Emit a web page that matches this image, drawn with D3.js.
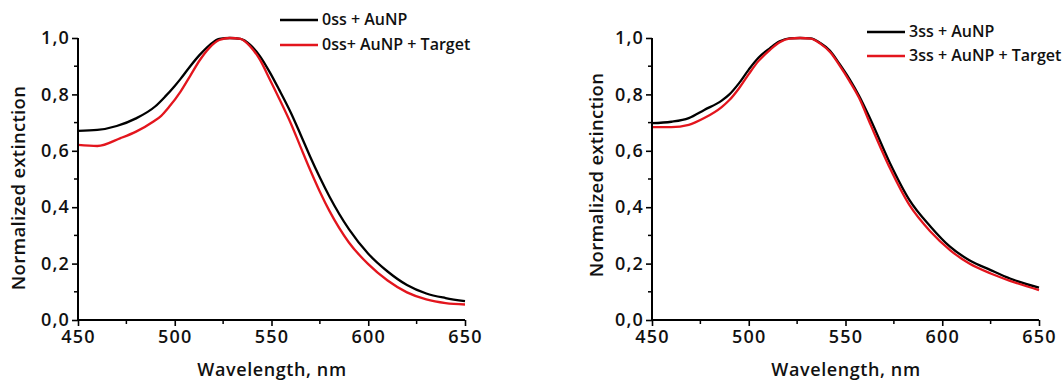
<!DOCTYPE html>
<html>
<head>
<meta charset="utf-8">
<script src="https://cdn.jsdelivr.net/npm/d3@7"></script>
<style>
  body { margin: 0; background: #fff; }
  svg { display: block; }
  text { font-family: "Open Sans", "DejaVu Sans", sans-serif; fill: #111; }
</style>
</head>
<body>
<svg id="chart" width="1063" height="381"></svg>
<script>
// Axis ticks (nm and normalized units)
const xMajorTicks = [450, 500, 550, 600, 650];
const xMinorTicks = [475, 525, 575, 625];
const yMajorTicks = [0, 0.2, 0.4, 0.6, 0.8, 1.0];
const yMinorTicks = [0.1, 0.3, 0.5, 0.7, 0.9];

// Panel A: 0ss
const wlA1 = [450, 460, 470, 480, 490, 495, 500, 503, 508, 513, 518, 523, 528.5, 534, 539, 544, 549, 554, 560, 565, 570, 575, 580, 590, 600, 610, 620, 630, 640, 650];
const extA1 = [0.671, 0.674, 0.688, 0.715, 0.758, 0.792, 0.830, 0.855, 0.900, 0.941, 0.975, 0.997, 1.000, 0.997, 0.976, 0.936, 0.880, 0.816, 0.735, 0.658, 0.579, 0.505, 0.437, 0.322, 0.235, 0.172, 0.124, 0.094, 0.078, 0.067];
const wlA2 = [450, 460, 472, 480, 489, 493, 497, 503, 508, 513, 518, 523, 528.5, 534, 539, 544, 549, 554, 560, 565, 570, 575, 580, 590, 600, 610, 620, 630, 640, 650];
const extA2 = [0.621, 0.617, 0.645, 0.668, 0.704, 0.724, 0.755, 0.810, 0.866, 0.922, 0.966, 0.993, 1.000, 0.997, 0.970, 0.923, 0.855, 0.785, 0.697, 0.614, 0.532, 0.455, 0.386, 0.275, 0.198, 0.140, 0.098, 0.073, 0.060, 0.055];

// Panel B: 3ss
const wlB1 = [450, 460, 469, 477, 486, 490, 495, 500, 505, 511, 516, 521, 526.5, 532, 537, 542, 547, 552, 557, 563, 573, 583, 594, 604, 614, 625, 635, 650];
const extB1 = [0.698, 0.703, 0.716, 0.745, 0.778, 0.800, 0.840, 0.888, 0.930, 0.964, 0.988, 0.999, 1.000, 0.999, 0.982, 0.955, 0.907, 0.855, 0.795, 0.710, 0.556, 0.426, 0.331, 0.260, 0.212, 0.177, 0.147, 0.115];
const wlB2 = [450, 460, 469, 477, 486, 490, 495, 500, 505, 511, 516, 521, 526.5, 532, 537, 542, 547, 552, 557, 563, 573, 583, 594, 604, 614, 625, 635, 650];
const extB2 = [0.684, 0.684, 0.692, 0.716, 0.755, 0.780, 0.822, 0.872, 0.918, 0.958, 0.985, 0.998, 1.000, 0.998, 0.980, 0.950, 0.902, 0.848, 0.788, 0.692, 0.538, 0.408, 0.313, 0.248, 0.200, 0.165, 0.139, 0.106];

const legendA = ["0ss + AuNP", "0ss+ AuNP + Target"];
const legendB = ["3ss + AuNP", "3ss + AuNP + Target"];

const xTitle = "Wavelength, nm";
const yTitle = "Normalized extinction";

const BLACK = "#000";
const RED = "#e3151d";

const svg = d3.select("#chart");
const fmt = v => d3.format(".1f")(v).replace(".", ",");

function zip(xs, ys) { return xs.map((x, i) => ({ x, y: ys[i] })); }

function drawPanel(p) {
  const x = d3.scaleLinear().domain([450, 650]).range([p.left, p.right]);
  const y = d3.scaleLinear().domain([0, 1]).range([p.bottom, p.top]);
  const g = svg.append("g");

  // spectra
  const line = d3.line().x(d => x(d.x)).y(d => y(d.y)).curve(d3.curveMonotoneX);
  p.series.forEach(s => {
    g.append("path").datum(zip(s.wl, s.ext))
      .attr("d", line).attr("fill", "none")
      .attr("stroke", s.color).attr("stroke-width", 2.3)
      .attr("stroke-linejoin", "round");
  });

  // x axis
  const xAxis = g.append("g").attr("transform", `translate(0,${p.bottom})`)
    .call(d3.axisBottom(x).tickValues(xMajorTicks).tickSize(6).tickPadding(4).tickFormat(d3.format("d")));
  xAxis.append("g").selectAll("line").data(xMinorTicks).join("line")
    .attr("x1", d => x(d)).attr("x2", d => x(d)).attr("y1", 0).attr("y2", 4)
    .attr("stroke", "#000").attr("stroke-width", 1.5);

  // y axis
  const yAxis = g.append("g").attr("transform", `translate(${p.left},0)`)
    .call(d3.axisLeft(y).tickValues(yMajorTicks).tickSize(6).tickPadding(2).tickFormat(fmt));
  yAxis.append("g").selectAll("line").data(yMinorTicks).join("line")
    .attr("y1", d => y(d)).attr("y2", d => y(d)).attr("x1", 0).attr("x2", -4)
    .attr("stroke", "#000").attr("stroke-width", 1.5);

  [xAxis, yAxis].forEach(a => {
    a.select(".domain").attr("stroke", "#000").attr("stroke-width", 2)
      .attr("d", a === xAxis ? `M${p.left},0H${p.right}` : `M0,${p.bottom}V${p.top}`);
    a.selectAll(".tick line").attr("stroke", "#000").attr("stroke-width", 1.6);
    a.selectAll(".tick text").attr("fill", "#111")
      .style("font-size", "18px").style("font-weight", 600)
      .style("letter-spacing", "1.2px")
      .style("font-family", '"Open Sans", sans-serif');
  });

  // axis titles
  g.append("text").attr("x", p.xTitleX).attr("y", 376)
    .attr("text-anchor", "middle").style("font-size", "18px").style("font-weight", 600)
    .style("letter-spacing", "0.6px").text(xTitle);
  g.append("text").attr("transform", `translate(${p.yTitleX},${p.yTitleY}) rotate(-90)`)
    .attr("text-anchor", "middle").style("font-size", "18.5px").style("font-weight", 600)
    .style("letter-spacing", "0.3px").text(yTitle);

  // legend
  p.series.forEach((s, i) => {
    const ly = p.legendY + i * p.legendGap;
    g.append("line").attr("x1", p.legendX).attr("x2", p.legendX + 38)
      .attr("y1", ly).attr("y2", ly).attr("stroke", s.color).attr("stroke-width", 2.5);
    g.append("text").attr("x", p.legendX + 42).attr("y", ly + 5)
      .style("font-size", "16px").style("font-weight", 600).text(s.label);
  });
}

drawPanel({
  left: 78, right: 465, top: 38, bottom: 320,
  xTitleX: 272, yTitleX: 25, yTitleY: 188,
  legendX: 280, legendY: 20, legendGap: 25,
  series: [
    { wl: wlA1, ext: extA1, color: BLACK, label: legendA[0] },
    { wl: wlA2, ext: extA2, color: RED, label: legendA[1] }
  ]
});

drawPanel({
  left: 652, right: 1039, top: 38, bottom: 320,
  xTitleX: 846, yTitleX: 603, yTitleY: 175,
  legendX: 867, legendY: 32, legendGap: 24,
  series: [
    { wl: wlB1, ext: extB1, color: BLACK, label: legendB[0] },
    { wl: wlB2, ext: extB2, color: RED, label: legendB[1] }
  ]
});
</script>
</body>
</html>
